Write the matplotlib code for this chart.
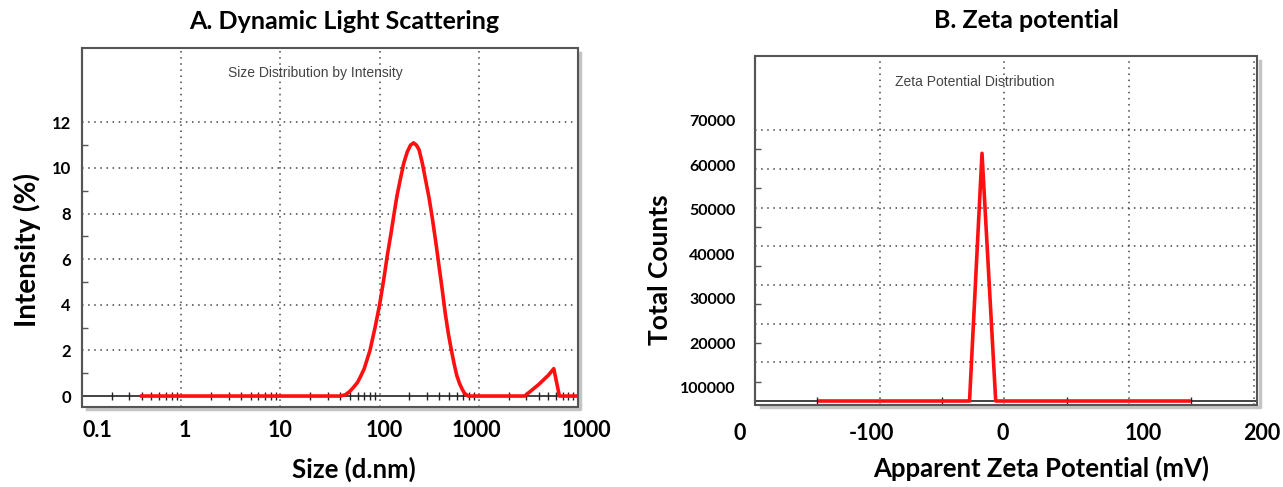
import matplotlib.pyplot as plt
import matplotlib.transforms as mtransforms
from matplotlib.patches import Rectangle

# --- data ---
# A. DLS size distribution (size in d.nm, intensity in %)
dls_size = [0.4, 40, 45, 50, 55, 60, 65, 70, 80, 90, 100, 110, 120, 130, 140,
            150, 160, 175, 190, 205, 220, 235, 250, 270, 290, 315, 340, 370,
            400, 430, 460, 495, 530, 565, 600, 640, 680, 720, 780, 900, 2900,
            4000, 5000, 5700, 6500, 10000]
dls_int = [0, 0, 0.05, 0.2, 0.4, 0.6, 0.9, 1.2, 2.0, 3.0, 4.0, 5.1, 6.2, 7.1,
           8.0, 8.8, 9.4, 10.2, 10.7, 11.0, 11.1, 11.0, 10.8, 10.2, 9.5, 8.7,
           7.8, 6.7, 5.6, 4.6, 3.6, 2.7, 2.0, 1.4, 0.9, 0.55, 0.3, 0.12, 0, 0,
           0, 0.5, 0.9, 1.2, 0, 0]
dls_xticks = [0.1, 1, 10, 100, 1000, 10000]
dls_xlabels = ['0.1', '1', '10', '100', '1000', '1000']
dls_yticks = [0, 2, 4, 6, 8, 10, 12]

# B. zeta potential distribution (mV, total counts)
zeta_mv = [-148, -28, -18, -7, 148]
zeta_counts = [0, 0, 64000, 0, 0]
zeta_xticks = [-200, -100, 0, 100, 200]
zeta_xlabels = ['0', '-100', '0', '100', '200']
zeta_grid_y = [10000, 20000, 30000, 40000, 50000, 60000, 70000]
zeta_ylabels = ['100000', '20000', '30000', '40000', '50000', '60000', '70000']

RED = '#ff1010'
GRID = '#444444'
BOLD = ['Lato', 'DejaVu Sans']
NARROW = ['Liberation Sans Narrow', 'Liberation Sans', 'DejaVu Sans']

fig = plt.figure(figsize=(12.83, 4.87), dpi=100)
ax1 = fig.add_axes([0.0639, 0.1643, 0.3866, 0.7372])
ax2 = fig.add_axes([0.5885, 0.1684, 0.3913, 0.7166])


def frame(ax):
    for s in ['top', 'right']:
        ax.spines[s].set_visible(False)
    ax.spines['left'].set_color('#555555')
    ax.spines['left'].set_linewidth(1.5)
    ax.spines['bottom'].set_position(('data', 0))
    ax.spines['bottom'].set_color('#222222')
    ax.spines['bottom'].set_linewidth(1.2)
    # soft shadow on the right and bottom edges
    shadow = mtransforms.offset_copy(ax.transAxes, fig=fig, x=2.5, y=-2.5, units='dots')
    ax.plot([0.006, 1, 1], [0, 0, 0.994], transform=shadow, color='#c4c4c4',
            lw=2.5, clip_on=False, zorder=0)
    ax.add_patch(Rectangle((0, 0), 1, 1, transform=ax.transAxes, fill=False,
                           ec='#555555', lw=1.5, clip_on=False, zorder=5))


def shift_labels(ax, offsets):
    for lab, dx in zip(ax.get_xticklabels(), offsets):
        lab.set_transform(lab.get_transform() +
                          mtransforms.ScaledTranslation(dx / 100, 0, fig.dpi_scale_trans))


# ---------------- A. Dynamic Light Scattering ----------------
ax1.plot(dls_size, dls_int, color=RED, lw=2.6, zorder=4, solid_joinstyle='round')
ax1.set_xscale('log')
ax1.set_xlim(0.1, 10000)
ax1.set_ylim(-0.48, 15.26)
frame(ax1)
ax1.set_xticks(dls_xticks)
ax1.set_xticklabels(dls_xlabels)
ax1.set_yticks(dls_yticks)
ax1.set_yticks([1, 3, 5, 7, 9, 11], minor=True)
ax1.tick_params(axis='x', which='major', length=0, pad=17)
ax1.tick_params(axis='x', which='minor', direction='inout', length=6, width=1, color='#222222')
ax1.tick_params(axis='y', which='major', length=0, pad=8)
ax1.tick_params(axis='y', which='minor', direction='in', length=4, width=1, color='#555555')
for lab in ax1.get_xticklabels() + ax1.get_yticklabels():
    lab.set_family(BOLD)
    lab.set_fontweight('bold')
ax1.tick_params(axis='x', labelsize=15.5)
ax1.tick_params(axis='y', labelsize=12)
shift_labels(ax1, [15, 4, 0, 5, -2, 8])
for x in dls_xticks[1:-1]:
    ax1.axvline(x, color=GRID, lw=1.1, dashes=(1, 3), zorder=1)
for y in dls_yticks[1:]:
    ax1.axhline(y, color=GRID, lw=1.1, dashes=(1, 3), zorder=1)
ax1.text(0.47, 0.93, 'Size Distribution by Intensity', transform=ax1.transAxes,
         ha='center', va='center', fontsize=10, color='#444444', family=NARROW)
ax1.set_title('A. Dynamic Light Scattering', family=BOLD, fontweight='bold',
              fontsize=18, x=0.528, y=1.03)
ax1.set_xlabel('Size (d.nm)', family=BOLD, fontweight='bold', fontsize=18.5, va='center')
ax1.xaxis.set_label_coords(0.548, -0.175)
ax1.set_ylabel('Intensity (%)', family=BOLD, fontweight='bold', fontsize=20, va='center')
ax1.yaxis.set_label_coords(-0.111, 0.437)

# ---------------- B. Zeta potential ----------------
ax2.plot(zeta_mv, zeta_counts, color=RED, lw=2.6, zorder=4, solid_joinstyle='round')
ax2.set_xlim(-200, 202.6)
ax2.set_ylim(-1030, 89150)
frame(ax2)
ax2.set_xticks(zeta_xticks)
ax2.set_xticklabels(zeta_xlabels)
ax2.set_xticks([-150, -50, 50, 150], minor=True)
ax2.set_yticks(zeta_grid_y)
ax2.set_yticklabels([])
ax2.set_yticks([5000, 15000, 25000, 35000, 45000, 55000, 65000], minor=True)
ax2.tick_params(axis='x', which='major', length=0, pad=15.5)
ax2.tick_params(axis='x', which='minor', direction='inout', length=6, width=1, color='#222222')
ax2.tick_params(axis='y', which='major', length=0)
ax2.tick_params(axis='y', which='minor', direction='in', length=4, width=1, color='#555555')
for lab in ax2.get_xticklabels():
    lab.set_family(BOLD)
    lab.set_fontweight('bold')
ax2.tick_params(axis='x', labelsize=15.5)
shift_labels(ax2, [-15, -8, -2, 14, 8])
for x in [-100, 0, 100, 200]:
    ax2.axvline(x, color=GRID, lw=1.1, dashes=(1, 3), zorder=1)
for y in zeta_grid_y:
    ax2.axhline(y, color=GRID, lw=1.1, dashes=(1, 3), zorder=1)

# count labels, pasted on a slightly different scale than the grid
lab_ax = ax2.twinx()
lab_ax.yaxis.tick_left()
lab_ax.set_ylim(6180, 84600)
lab_ax.set_yticks(zeta_grid_y)
lab_ax.set_yticklabels(zeta_ylabels)
lab_ax.tick_params(axis='y', length=0, pad=14, labelsize=11.5)
for lab in lab_ax.get_yticklabels():
    lab.set_family(BOLD)
    lab.set_fontweight('bold')
for s in lab_ax.spines.values():
    s.set_visible(False)

ax2.text(0.438, 0.926, 'Zeta Potential Distribution', transform=ax2.transAxes,
         ha='center', va='center', fontsize=10, color='#444444', family=NARROW)
ax2.set_title('B. Zeta potential', family=BOLD, fontweight='bold',
              fontsize=18, x=0.54, y=1.055)
ax2.set_xlabel('Apparent Zeta Potential (mV)', family=BOLD, fontweight='bold',
               fontsize=18.5, va='center')
ax2.xaxis.set_label_coords(0.57, -0.181)
ax2.set_ylabel('Total Counts', family=BOLD, fontweight='bold', fontsize=19, va='center')
ax2.yaxis.set_label_coords(-0.189, 0.387)

fig.savefig('out.png', dpi=100)
